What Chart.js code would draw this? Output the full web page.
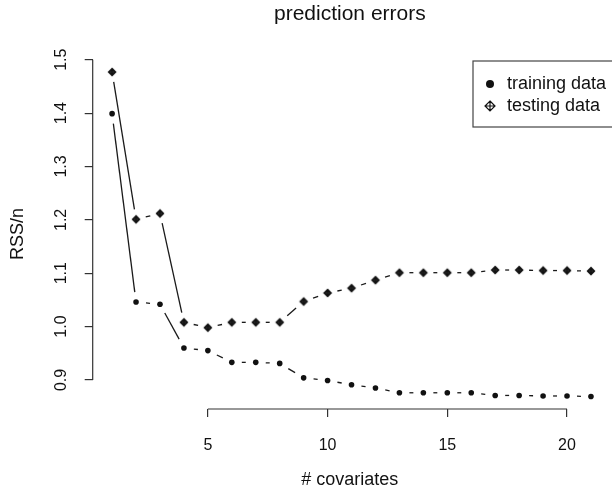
<!DOCTYPE html>
<html>
<head>
<meta charset="utf-8">
<title>prediction errors</title>
<script src="https://cdn.jsdelivr.net/npm/chart.js@4/dist/chart.umd.min.js"></script>
<style>
  html, body { margin: 0; padding: 0; background: #fff; }
  canvas { display: block; }
</style>
</head>
<body>
<canvas id="errChart" width="612" height="495"></canvas>
<script>
// number of covariates in the model
const covariates = [1, 2, 3, 4, 5, 6, 7, 8, 9, 10, 11, 12, 13, 14, 15, 16, 17, 18, 19, 20, 21];

// RSS/n on the training and testing sets
const trainingErr = [1.399, 1.046, 1.042, 0.960, 0.955, 0.933, 0.933, 0.931, 0.904, 0.899, 0.891,
                     0.885, 0.876, 0.876, 0.876, 0.876, 0.871, 0.871, 0.870, 0.870, 0.869];
const testingErr = [1.477, 1.201, 1.212, 1.008, 0.998, 1.008, 1.008, 1.008, 1.047, 1.063, 1.072,
                    1.087, 1.101, 1.101, 1.101, 1.101, 1.106, 1.106, 1.105, 1.105, 1.104];

const seriesNames = ['training data', 'testing data'];
const xTicks = [5, 10, 15, 20];
const yTicks = [0.9, 1.0, 1.1, 1.2, 1.3, 1.4, 1.5];

const INK = '#111';
const FONT = "'Liberation Sans', Arial, Helvetica, sans-serif";
Chart.defaults.font.family = FONT;
Chart.defaults.color = INK;

// diamond with a plus inside (R pch 9)
function diamondPlus(r, lw) {
  const size = Math.ceil(2 * r + 2 * lw + 2);
  const c = document.createElement('canvas');
  c.width = size; c.height = size;
  const g = c.getContext('2d');
  const m = size / 2;
  g.strokeStyle = INK;
  g.lineWidth = lw;
  g.beginPath();
  g.moveTo(m, m - r); g.lineTo(m + r, m); g.lineTo(m, m + r); g.lineTo(m - r, m); g.closePath();
  g.moveTo(m, m - r); g.lineTo(m, m + r);
  g.moveTo(m - r, m); g.lineTo(m + r, m);
  g.stroke();
  return c;
}
const testMarker = diamondPlus(3.3, 1.7);

const toPoints = ys => ys.map((y, i) => ({ x: covariates[i], y: y }));

// type="b" style: segments between points, stopped short of each marker
const GAP = 10;
const gapLines = {
  id: 'gapLines',
  beforeDatasetsDraw(chart) {
    const ctx = chart.ctx;
    ctx.save();
    ctx.strokeStyle = '#1a1a1a';
    ctx.lineWidth = 1.3;
    chart.data.datasets.forEach((ds, i) => {
      const pts = chart.getDatasetMeta(i).data;
      for (let k = 1; k < pts.length; k++) {
        const a = pts[k - 1], b = pts[k];
        const dx = b.x - a.x, dy = b.y - a.y;
        const len = Math.hypot(dx, dy);
        if (len <= 2 * GAP) continue;
        const ux = dx / len, uy = dy / len;
        ctx.beginPath();
        ctx.moveTo(a.x + ux * GAP, a.y + uy * GAP);
        ctx.lineTo(b.x - ux * GAP, b.y - uy * GAP);
        ctx.stroke();
      }
    });
    ctx.restore();
  }
};

// axis lines only span first..last tick
const shortAxes = {
  id: 'shortAxes',
  afterDraw(chart) {
    const { ctx, scales: { x, y } } = chart;
    ctx.save();
    ctx.strokeStyle = '#333';
    ctx.lineWidth = 1.2;
    ctx.beginPath();
    ctx.moveTo(x.getPixelForValue(xTicks[0]), x.top);
    ctx.lineTo(x.getPixelForValue(xTicks[xTicks.length - 1]), x.top);
    ctx.moveTo(y.right, y.getPixelForValue(yTicks[0]));
    ctx.lineTo(y.right, y.getPixelForValue(yTicks[yTicks.length - 1]));
    ctx.stroke();
    ctx.restore();
  }
};

// boxed legend in the top right corner
const boxLegend = {
  id: 'boxLegend',
  afterDraw(chart) {
    const ctx = chart.ctx;
    const left = 473, top = 61, h = 66;
    ctx.save();
    ctx.strokeStyle = '#444';
    ctx.lineWidth = 1.2;
    ctx.strokeRect(left, top, 200, h);

    const rows = [top + 23, top + 45];
    // filled dot
    ctx.fillStyle = INK;
    ctx.beginPath();
    ctx.arc(left + 17, rows[0], 4, 0, Math.PI * 2);
    ctx.fill();
    // diamond plus
    const cx = left + 17, cy = rows[1], r = 5;
    ctx.strokeStyle = INK;
    ctx.lineWidth = 1.2;
    ctx.beginPath();
    ctx.moveTo(cx, cy - r); ctx.lineTo(cx + r, cy); ctx.lineTo(cx, cy + r); ctx.lineTo(cx - r, cy); ctx.closePath();
    ctx.moveTo(cx, cy - r); ctx.lineTo(cx, cy + r);
    ctx.moveTo(cx - r, cy); ctx.lineTo(cx + r, cy);
    ctx.stroke();

    ctx.font = '18px ' + FONT;
    ctx.textBaseline = 'middle';
    ctx.textAlign = 'left';
    chart.data.datasets.forEach((ds, i) => {
      ctx.fillText(ds.label, left + 34, rows[i]);
    });
    ctx.restore();
  }
};

new Chart(document.getElementById('errChart'), {
  type: 'scatter',
  data: {
    datasets: [
      {
        label: seriesNames[0],
        data: toPoints(trainingErr),
        pointStyle: 'circle',
        pointRadius: 2.8,
        backgroundColor: INK,
        borderWidth: 0,
        showLine: false
      },
      {
        label: seriesNames[1],
        data: toPoints(testingErr),
        pointStyle: testMarker,
        pointRadius: 4,
        showLine: false
      }
    ]
  },
  options: {
    responsive: false,
    animation: false,
    events: [],
    layout: { padding: 0 },
    plugins: {
      legend: { display: false },
      tooltip: { enabled: false },
      title: {
        display: true,
        text: 'prediction errors',
        fullSize: false,
        color: INK,
        font: { size: 21, weight: 'normal' },
        padding: { top: 2, bottom: 32 }
      }
    },
    scales: {
      x: {
        type: 'linear',
        min: 0.19,
        max: 21.67,
        afterFit: s => { s.height = 86; },
        afterBuildTicks: s => { s.ticks = xTicks.map(v => ({ value: v })); },
        border: { display: false },
        grid: { drawOnChartArea: false, tickLength: 8, color: '#333', lineWidth: 1.2 },
        ticks: { font: { size: 16 }, padding: 19, color: INK },
        title: {
          display: true,
          text: '# covariates',
          color: INK,
          font: { size: 18 },
          padding: { top: 0, bottom: 4 }
        }
      },
      y: {
        min: 0.8456,
        max: 1.501,
        afterFit: s => { s.width = 92.7; },
        afterBuildTicks: s => { s.ticks = yTicks.map(v => ({ value: v })); },
        border: { display: false },
        grid: { drawOnChartArea: false, tickLength: 8, color: '#333', lineWidth: 1.2 },
        ticks: {
          font: { size: 16 },
          padding: 12,
          color: INK,
          minRotation: 90,
          maxRotation: 90,
          crossAlign: 'center',
          callback: v => v.toFixed(1)
        },
        title: {
          display: true,
          text: 'RSS/n',
          color: INK,
          font: { size: 18 },
          padding: { top: 7, bottom: 0 }
        }
      }
    }
  },
  plugins: [gapLines, shortAxes, boxLegend]
});
</script>
</body>
</html>
